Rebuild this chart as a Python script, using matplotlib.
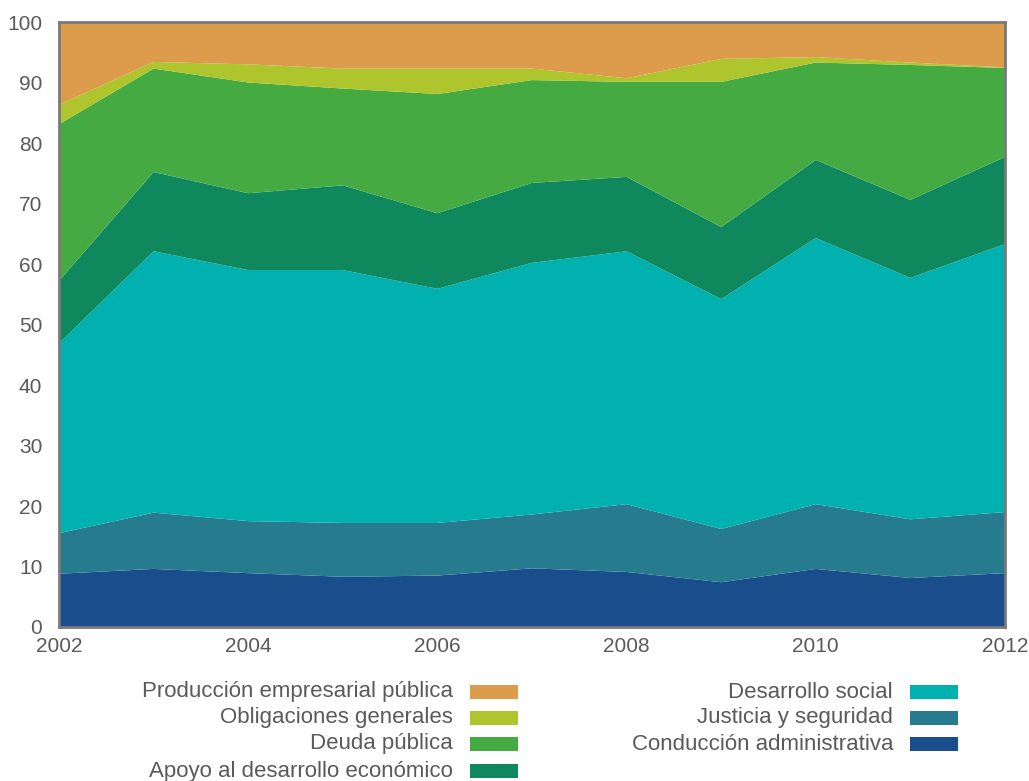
import matplotlib
matplotlib.use("Agg")
import matplotlib.pyplot as plt
from matplotlib.patches import Rectangle

years = [2002, 2003, 2004, 2005, 2006, 2007, 2008, 2009, 2010, 2011, 2012]

conduccion = [8.8, 9.6, 8.9, 8.3, 8.5, 9.7, 9.1, 7.4, 9.6, 8.1, 8.9]
justicia = [6.7, 9.3, 8.6, 8.9, 8.7, 8.9, 11.2, 8.8, 10.7, 9.7, 10.1]
social = [31.4, 43.2, 41.5, 41.8, 38.7, 41.6, 41.8, 38.0, 44.0, 39.9, 44.3]
apoyo = [10.3, 13.1, 12.7, 14.0, 12.5, 13.2, 12.3, 11.9, 12.9, 12.9, 14.4]
deuda = [25.9, 17.1, 18.3, 16.0, 19.7, 17.0, 15.7, 24.0, 16.1, 22.3, 14.7]
obligaciones = [3.2, 1.1, 3.0, 3.3, 4.2, 1.9, 0.6, 3.8, 0.9, 0.4, 0.1]
produccion = [13.7, 6.6, 7.0, 7.7, 7.7, 7.7, 9.3, 6.1, 5.8, 6.7, 7.5]

labels = ["Conducción administrativa", "Justicia y seguridad", "Desarrollo social",
          "Apoyo al desarrollo económico", "Deuda pública", "Obligaciones generales",
          "Producción empresarial pública"]
colors = ["#1A4D8C", "#277B8E", "#00B1B0", "#0F885E", "#45AA42", "#AFC52D", "#DC9C4C"]
series = [conduccion, justicia, social, apoyo, deuda, obligaciones, produccion]

xticks = [2002, 2004, 2006, 2008, 2010, 2012]
yticks = list(range(0, 101, 10))

plt.rcParams['font.family'] = ['Liberation Sans', 'DejaVu Sans']
W, H = 1029, 781
fig = plt.figure(figsize=(W / 100, H / 100), dpi=100)
ax = fig.add_axes([59 / W, 1 - 627 / H, (1005 - 59) / W, (627 - 22) / H])

ax.stackplot(years, *series, colors=colors, linewidth=0)
ax.set_xlim(2002, 2012)
ax.set_ylim(0, 100)
ax.set_xticks(xticks)
ax.set_yticks(yticks)
ax.tick_params(length=0, labelsize=15, colors="#5a5a5a")
ax.tick_params(axis='y', pad=12)
ax.tick_params(axis='x', pad=7)
for s in ax.spines.values():
    s.set_color("#7a7a7a")
    s.set_linewidth(2)

# Legend: two columns, text right-aligned, swatch on the right
col1 = [6, 5, 4, 3]
col2 = [2, 1, 0]
rows_y = [692, 718, 744, 771]
for cols, sw_x in ((col1, 470), (col2, 910)):
    for i, idx in enumerate(cols):
        y = rows_y[i]
        fig.patches.append(Rectangle((sw_x / W, 1 - (y + 7) / H), 48 / W, 14 / H,
                                     transform=fig.transFigure, facecolor=colors[idx],
                                     edgecolor='none'))
        fig.text((sw_x - 17) / W, 1 - y / H, labels[idx], ha='right', va='center',
                 fontsize=16, color="#5a5a5a")

fig.savefig("out.png", dpi=100)
